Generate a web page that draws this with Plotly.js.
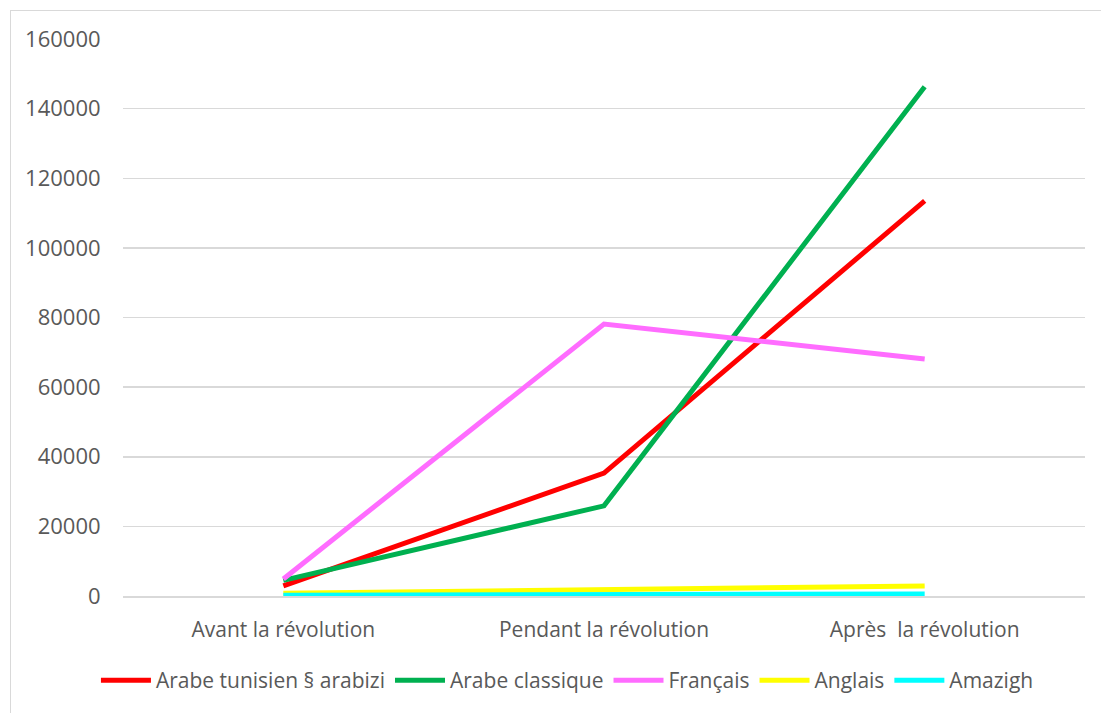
<!DOCTYPE html>
<html>
<head>
<meta charset="utf-8">
<script src="https://cdn.plot.ly/plotly-3.0.1.min.js"></script>
<style>
html,body{margin:0;padding:0;background:#fff;overflow:hidden;}
#frame{position:absolute;left:10px;top:10px;width:1200px;height:800px;border:1px solid #d9d9d9;}
#chart{position:absolute;left:0;top:0;width:1101px;height:713px;}
</style>
</head>
<body>
<div id="frame"></div>
<div id="chart"></div>
<script>
const categories = ["Avant la révolution", "Pendant la révolution", "Après  la révolution"];
const seriesNames = ["Arabe tunisien § arabizi", "Arabe classique", "Français", "Anglais", "Amazigh"];
const arabeTunisien = [2900, 35300, 113500];
const arabeClassique = [4500, 25900, 146300];
const francais = [4900, 78100, 68100];
const anglais = [800, 2000, 2900];
const amazigh = [200, 300, 600];
const yTicks = [0, 20000, 40000, 60000, 80000, 100000, 120000, 140000, 160000];
const colors = ["#FF0000", "#00B050", "#FF6CFF", "#FFFF00", "#00FFFF"];
const allValues = [arabeTunisien, arabeClassique, francais, anglais, amazigh];

const traces = allValues.map((vals, i) => ({
  type: 'scatter',
  mode: 'lines',
  x: categories,
  y: vals,
  name: seriesNames[i],
  line: {color: colors[i], width: 5},
  hoverinfo: 'x+y+name'
}));

const fam = '"Open Sans", Lato, sans-serif';
const font = {family: fam, size: 21, color: '#595959'};

const layout = {
  width: 1101,
  height: 713,
  margin: {l: 123, r: 16, t: 39, b: 117},
  paper_bgcolor: 'rgba(0,0,0,0)',
  plot_bgcolor: 'rgba(0,0,0,0)',
  font: font,
  showlegend: true,
  legend: {
    orientation: 'h',
    x: 0.462,
    xanchor: 'center',
    y: -0.115,
    yanchor: 'top',
    font: font,
    itemwidth: 50,
    traceorder: 'normal'
  },
  xaxis: {
    type: 'category',
    range: [-0.5, 2.5],
    showgrid: false,
    showline: true,
    linecolor: '#d9d9d9',
    linewidth: 1.5,
    ticks: 'outside',
    ticklen: 14,
    tickcolor: 'rgba(0,0,0,0)',
    tickfont: font,
    zeroline: false
  },
  yaxis: {
    range: [0, 160000],
    tickvals: yTicks,
    ticktext: yTicks.map(String),
    showgrid: true,
    gridcolor: '#d9d9d9',
    gridwidth: 1.5,
    zeroline: false,
    showline: false,
    ticks: 'outside',
    ticklen: 17,
    tickcolor: 'rgba(0,0,0,0)',
    tickfont: {family: fam, size: 22, color: '#595959'}
  }
};

Plotly.newPlot('chart', traces, layout, {displayModeBar: false, staticPlot: true});
</script>
</body>
</html>
